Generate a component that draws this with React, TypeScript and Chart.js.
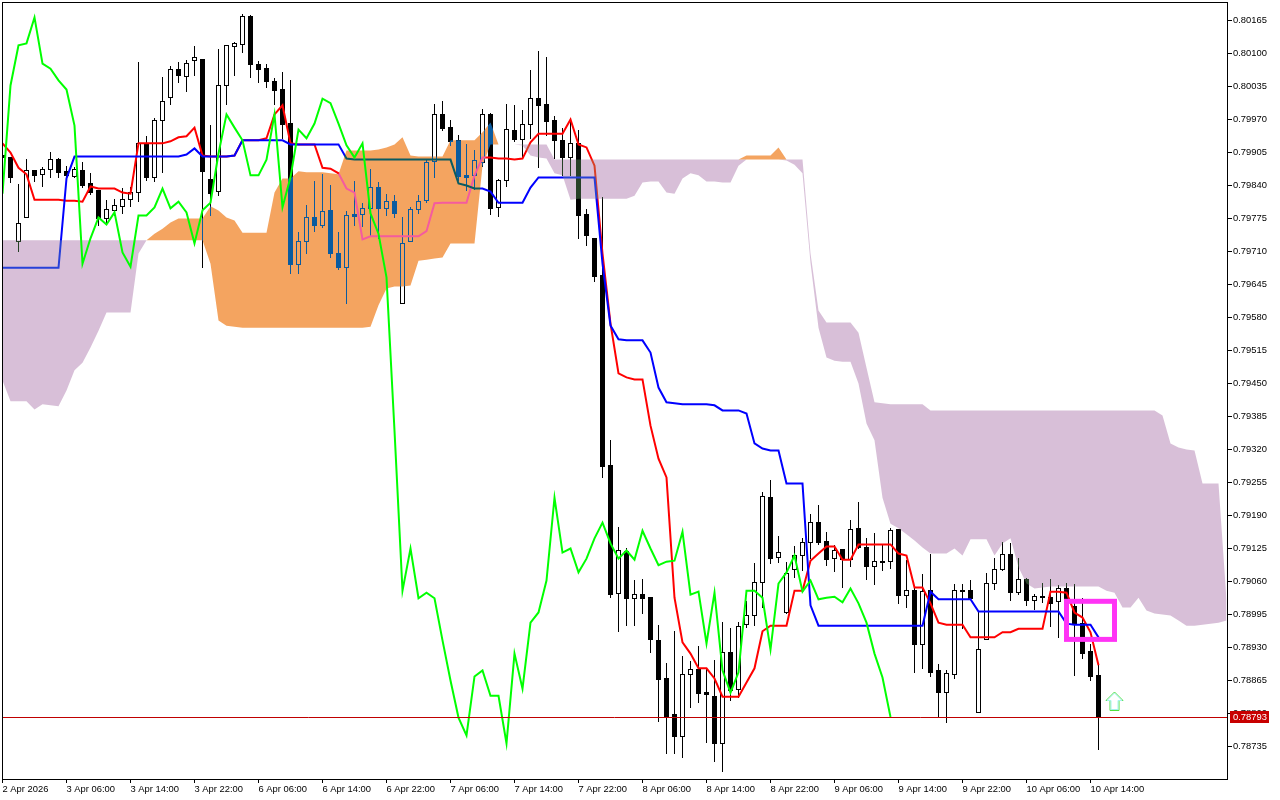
import React, { useEffect, useRef } from "react";
import { Chart, registerables } from "chart.js";

const opens = [0.79899,0.79895,0.7973,0.79777,0.7987,0.79862,0.79872,0.79891,0.79868,0.79858,
0.7987,0.79844,0.7983,0.79775,0.79791,0.79799,0.79812,0.79826,0.79921,0.79856,
0.79968,0.80013,0.80068,0.80055,0.80086,0.80088,0.79852,0.79828,0.80037,0.80114,
0.80118,0.80173,0.80078,0.8007,0.80045,0.80029,0.79962,0.79684,0.7973,0.79777,
0.79761,0.79791,0.79706,0.79678,0.79783,0.79783,0.79795,0.79836,0.79795,0.79808,
0.79608,0.7973,0.79793,0.7981,0.79887,0.7998,0.79954,0.79929,0.7986,0.7986,
0.79885,0.7998,0.79797,0.7985,0.79948,0.79931,0.7996,0.80011,0.8,0.79968,
0.79929,0.79895,0.79923,0.79783,0.79736,0.79663,0.79289,0.79037,0.79119,0.79027,
0.79035,0.79028,0.78944,0.78869,0.78798,0.78755,0.78877,0.78887,0.78841,0.78833,
0.78741,0.7892,0.78847,0.78975,0.78993,0.79058,0.79225,0.79107,0.78999,0.79083,
0.79111,0.79137,0.79176,0.79139,0.79105,0.79123,0.79103,0.79165,0.79127,0.7909,
0.79099,0.79099,0.79163,0.79032,0.79042,0.78936,0.79042,0.78885,0.78841,0.78877,
0.79042,0.79042,0.78802,0.78946,0.79056,0.79084,0.79113,0.79038,0.79064,0.79023,
0.7903,0.79028,0.79021,0.79046,0.79011,0.78977,0.78922,0.78875];
const highs = [0.79909,0.79895,0.79842,0.79891,0.7987,0.79875,0.79905,0.79893,0.79877,0.79875,
0.79885,0.79864,0.7983,0.7981,0.79812,0.79834,0.79836,0.80082,0.79937,0.79972,
0.80053,0.80074,0.80082,0.80086,0.80114,0.80088,0.79958,0.80108,0.80116,0.80122,
0.80177,0.80175,0.80084,0.80078,0.80051,0.80063,0.80047,0.79747,0.79801,0.79848,
0.79862,0.7984,0.79747,0.79789,0.79848,0.79805,0.79872,0.79846,0.79822,0.7982,
0.79777,0.79797,0.7982,0.79889,0.8,0.80005,0.79968,0.79938,0.79921,0.79909,
0.7999,0.79982,0.79852,0.8,0.79998,0.79988,0.80067,0.80104,0.80092,0.79976,
0.79952,0.79972,0.79948,0.79793,0.79736,0.79816,0.79338,0.79166,0.79125,0.79062,
0.79064,0.79028,0.78973,0.78898,0.78962,0.78912,0.78902,0.78932,0.78887,0.78904,
0.78979,0.78967,0.78979,0.79021,0.79095,0.79235,0.79259,0.79149,0.79097,0.79129,
0.79145,0.79192,0.7921,0.79157,0.79131,0.79123,0.7918,0.79216,0.79145,0.79155,
0.79131,0.79165,0.79163,0.79101,0.79052,0.79074,0.79113,0.78897,0.78885,0.79054,
0.79054,0.79062,0.78999,0.79076,0.79105,0.79137,0.79135,0.79105,0.79066,0.79034,
0.79056,0.79064,0.79052,0.79056,0.79054,0.79027,0.78936,0.78895];
const lows = [0.79889,0.79846,0.7971,0.79777,0.79848,0.79838,0.79856,0.79856,0.79844,0.79856,
0.79836,0.79822,0.79761,0.79767,0.79781,0.79785,0.79799,0.79808,0.7985,0.79848,
0.79866,0.8,0.80043,0.80025,0.80057,0.79678,0.79781,0.7982,0.8,0.80057,
0.80102,0.80053,0.80043,0.80033,0.8,0.79933,0.79667,0.79667,0.79706,0.79749,
0.79757,0.79698,0.79675,0.79608,0.79761,0.79759,0.79742,0.79736,0.79781,0.79777,
0.79608,0.7973,0.79785,0.79806,0.79856,0.79948,0.79919,0.7985,0.7983,0.79832,
0.79877,0.79783,0.79779,0.79838,0.79927,0.79893,0.79933,0.79875,0.79938,0.79893,
0.7986,0.7986,0.79736,0.79722,0.79651,0.79265,0.79028,0.78961,0.78973,0.78973,
0.78997,0.7892,0.78784,0.78721,0.78721,0.78713,0.78812,0.78822,0.78743,0.78705,
0.78685,0.78826,0.78832,0.78969,0.78973,0.79009,0.79095,0.79097,0.78997,0.79068,
0.79082,0.79105,0.79133,0.79092,0.7908,0.79048,0.7909,0.79125,0.79064,0.79054,
0.79082,0.79086,0.79017,0.79009,0.78881,0.78889,0.78873,0.78792,0.78782,0.78869,
0.78967,0.79027,0.78802,0.78946,0.79044,0.79082,0.79023,0.79034,0.79013,0.79005,
0.79019,0.78971,0.7895,0.78999,0.78875,0.78908,0.78865,0.78729];
const closes = [0.79895,0.79856,0.79765,0.7987,0.7986,0.79872,0.79891,0.79866,0.7986,0.79872,
0.7984,0.79826,0.79775,0.79793,0.79801,0.79812,0.79826,0.79923,0.79856,0.79968,
0.80005,0.80068,0.80057,0.8008,0.80092,0.79868,0.79824,0.80037,0.80116,0.8012,
0.80173,0.80078,0.80068,0.80045,0.80027,0.7996,0.79684,0.7973,0.79777,0.79761,
0.79789,0.79706,0.79678,0.79781,0.79779,0.79795,0.79836,0.79795,0.79808,0.79785,
0.79726,0.79793,0.79808,0.79885,0.7998,0.79952,0.79927,0.79858,0.79856,0.79889,
0.7998,0.79795,0.7985,0.7995,0.79931,0.7996,0.80011,0.79998,0.79966,0.79929,
0.79895,0.79923,0.79781,0.79742,0.79661,0.79287,0.79035,0.79121,0.79027,0.79035,
0.79027,0.78945,0.78867,0.78794,0.78755,0.78877,0.78887,0.78839,0.78837,0.78741,
0.7892,0.78845,0.78971,0.78993,0.79058,0.79227,0.79105,0.79117,0.79076,0.79111,
0.79137,0.79176,0.79137,0.79103,0.79121,0.79103,0.79163,0.79127,0.7909,0.79099,
0.79097,0.79161,0.79033,0.79042,0.78936,0.7904,0.78881,0.78841,0.78879,0.79042,
0.7904,0.79027,0.78926,0.79056,0.79084,0.79113,0.79038,0.79064,0.79023,0.7903,
0.79028,0.79017,0.79046,0.79019,0.78977,0.78918,0.78873,0.78793];

const tenkan = [0.79923,0.79905,0.79875,0.79862,0.79812,0.79812,0.79812,0.79812,0.7981,0.7981,
0.79808,0.79838,0.79834,0.79834,0.79834,0.79826,0.79824,0.79923,0.79923,0.79923,
0.79923,0.79927,0.79935,0.79937,0.79954,0.79899,0.79897,0.79897,0.79897,0.79899,
0.79929,0.79929,0.79929,0.79933,0.7998,0.79998,0.79923,0.79921,0.79921,0.79921,
0.79875,0.79873,0.79864,0.79834,0.79826,0.79734,0.7974,0.7974,0.7974,0.7974,
0.7974,0.7974,0.7974,0.7975,0.79805,0.79806,0.79806,0.79806,0.79806,0.7986,
0.79895,0.79895,0.79893,0.79893,0.79891,0.79893,0.79925,0.79942,0.79942,0.79942,
0.79942,0.7997,0.79921,0.79915,0.79879,0.79706,0.79568,0.7947,0.79462,0.79458,
0.79458,0.79367,0.79302,0.79265,0.79028,0.7894,0.78918,0.78889,0.78889,0.78869,
0.78833,0.78833,0.78833,0.78861,0.78889,0.78962,0.78973,0.78973,0.78973,0.79042,
0.79042,0.79101,0.79115,0.79129,0.79129,0.79103,0.79103,0.79133,0.79133,0.79133,
0.79133,0.79133,0.79115,0.79111,0.79048,0.79048,0.79017,0.78979,0.78975,0.78975,
0.78975,0.7895,0.7895,0.7895,0.7895,0.7896,0.7896,0.78967,0.78967,0.78967,
0.78967,0.7904,0.7904,0.79038,0.78999,0.78989,0.7896,0.78895];

const kijun = [0.79678,0.79678,0.79678,0.79678,0.79678,0.79678,0.79678,0.79678,0.79854,0.79897,
0.79897,0.79897,0.79897,0.79897,0.79897,0.79897,0.79897,0.79897,0.79897,0.79897,
0.79897,0.79897,0.79897,0.79901,0.79913,0.79897,0.79897,0.79897,0.79897,0.79899,
0.79929,0.79929,0.79929,0.79929,0.79929,0.79929,0.79921,0.79921,0.79921,0.79921,
0.79921,0.79921,0.79921,0.79893,0.79891,0.79891,0.79891,0.79891,0.79891,0.79891,
0.79891,0.79891,0.79891,0.79891,0.79891,0.79891,0.79891,0.79844,0.7984,0.79834,
0.79834,0.79828,0.79806,0.79806,0.79806,0.79806,0.79836,0.79856,0.79856,0.79856,
0.79856,0.79856,0.79856,0.79856,0.79856,0.79686,0.79564,0.79537,0.79535,0.79535,
0.79535,0.79511,0.79442,0.79413,0.79411,0.79409,0.79409,0.79409,0.79409,0.79407,
0.79397,0.79397,0.79397,0.79391,0.79332,0.79322,0.79318,0.79318,0.79253,0.79253,
0.79253,0.79013,0.78973,0.78973,0.78973,0.78973,0.78973,0.78973,0.78973,0.78973,
0.78973,0.78973,0.78973,0.78973,0.78973,0.78973,0.7904,0.79025,0.79025,0.79025,
0.79025,0.79025,0.79001,0.79001,0.79001,0.79001,0.79001,0.79001,0.79001,0.79001,
0.79001,0.79001,0.79001,0.78977,0.78975,0.78975,0.78975,0.7895];

const chikou = [0.79824,0.80037,0.80116,0.8012,0.80171,0.8008,0.8007,0.80047,0.80029,0.79958,
0.79686,0.79736,0.79777,0.79763,0.79787,0.79708,0.7968,0.79781,0.79781,0.79797,
0.79834,0.79795,0.79808,0.79787,0.79726,0.79791,0.79806,0.79903,0.7998,0.79954,
0.79929,0.7986,0.7986,0.79891,0.7998,0.79797,0.79856,0.7995,0.79933,0.79962,
0.80011,0.80002,0.79962,0.79919,0.79895,0.79923,0.79785,0.79745,0.79659,0.79357,
0.79042,0.79125,0.79027,0.79038,0.79027,0.78944,0.78865,0.78792,0.78757,0.78873,
0.78885,0.78835,0.78835,0.78741,0.78918,0.78849,0.78979,0.78999,0.79062,0.79225,
0.79117,0.79125,0.79078,0.79105,0.79145,0.79176,0.79135,0.79105,0.79121,0.79103,
0.7916,0.79125,0.79092,0.79099,0.79101,0.79158,0.79034,0.7904,0.78938,0.79038,
0.78885,0.78841,0.78881,0.79042,0.79042,0.79028,0.78926,0.79056,0.79078,0.79111,
0.7904,0.79062,0.79025,0.79028,0.7903,0.79019,0.79046,0.79017,0.78979,0.78918,
0.78871,0.78793];

const senkouA = [0.79456,0.79415,0.79415,0.79415,0.79399,0.79409,0.79407,0.79405,0.79436,0.79476,
0.79491,0.79521,0.79554,0.7959,0.7959,0.7959,0.7959,0.79706,0.79732,0.79745,
0.79755,0.79767,0.79775,0.79775,0.79775,0.79775,0.79799,0.79791,0.79777,0.79771,
0.79747,0.79747,0.79747,0.79747,0.79826,0.79854,0.79854,0.79868,0.79866,0.79866,
0.79866,0.79864,0.79862,0.79909,0.79909,0.79909,0.79909,0.79911,0.79915,0.79921,
0.79935,0.79899,0.79897,0.79897,0.79897,0.79897,0.79929,0.79929,0.79929,0.79929,
0.79945,0.79964,0.79921,0.79921,0.79921,0.79919,0.79899,0.79895,0.79893,0.79864,
0.7986,0.79812,0.79814,0.79814,0.79814,0.79814,0.79814,0.79814,0.79814,0.7982,
0.79846,0.79848,0.79848,0.79826,0.79824,0.79854,0.79864,0.7986,0.79848,0.79848,
0.79846,0.79846,0.79879,0.79899,0.79899,0.79899,0.79899,0.79915,0.79889,0.79881,
0.79864,0.79688,0.7956,0.79501,0.79495,0.79493,0.79493,0.7945,0.79371,0.79338,
0.79225,0.79174,0.79165,0.79153,0.79141,0.79127,0.79115,0.79115,0.79115,0.79125,
0.79111,0.79143,0.79143,0.79143,0.79111,0.79135,0.79145,0.79088,0.79056,0.79046,
0.79048,0.7905,0.7905,0.7905,0.7905,0.7905,0.7905,0.7905,0.79042,0.79038,
0.79009,0.79009,0.79028,0.79003,0.78997,0.78995,0.78993,0.78983,0.78973,0.78973,
0.78975,0.78977,0.78979,0.78983];

const senkouB = [0.79732,0.79732,0.79732,0.79732,0.79732,0.79732,0.79732,0.79732,0.79732,0.79732,
0.79732,0.79732,0.79732,0.79732,0.79732,0.79732,0.79732,0.79732,0.79732,0.79732,
0.79732,0.79732,0.79732,0.79732,0.79732,0.79732,0.79686,0.79574,0.79564,0.79562,
0.7956,0.7956,0.7956,0.7956,0.7956,0.7956,0.7956,0.7956,0.7956,0.7956,
0.7956,0.7956,0.7956,0.7956,0.7956,0.7956,0.79562,0.79604,0.79637,0.79641,
0.79641,0.79643,0.79692,0.79694,0.79696,0.79698,0.79726,0.79726,0.79726,0.79726,
0.79879,0.79921,0.79921,0.79921,0.79921,0.79921,0.79921,0.79921,0.79921,0.79891,
0.79891,0.79891,0.79891,0.79891,0.79891,0.79891,0.79891,0.79891,0.79891,0.79891,
0.79891,0.79891,0.79891,0.79891,0.79891,0.79891,0.79891,0.79891,0.79891,0.79891,
0.79891,0.79891,0.79891,0.79891,0.79891,0.79891,0.79891,0.79891,0.79891,0.79891,
0.79891,0.79706,0.79594,0.7957,0.7957,0.7957,0.7957,0.7955,0.79481,0.79413,
0.79411,0.79409,0.79409,0.79409,0.79409,0.79409,0.79397,0.79397,0.79397,0.79397,
0.79397,0.79397,0.79397,0.79397,0.79397,0.79397,0.79397,0.79397,0.79397,0.79397,
0.79397,0.79397,0.79397,0.79397,0.79397,0.79397,0.79397,0.79397,0.79397,0.79397,
0.79397,0.79397,0.79397,0.79397,0.79397,0.79387,0.79332,0.79324,0.7932,0.79318,
0.79253,0.79253,0.79253,0.79023];

const timeLabels = ["2 Apr 2026","3 Apr 06:00","3 Apr 14:00","3 Apr 22:00","6 Apr 06:00","6 Apr 14:00","6 Apr 22:00","7 Apr 06:00","7 Apr 14:00","7 Apr 22:00","8 Apr 06:00","8 Apr 14:00","8 Apr 22:00","9 Apr 06:00","9 Apr 14:00","9 Apr 22:00","10 Apr 06:00","10 Apr 14:00"];
const timeTickIndexes = [0,8,16,24,32,40,48,56,64,72,80,88,96,104,112,120,128,136];
const priceTicks = [0.80165,0.801,0.80035,0.7997,0.79905,0.7984,0.79775,0.7971,0.79645,0.7958,0.79515,0.7945,0.79385,0.7932,0.79255,0.7919,0.79125,0.7906,0.78995,0.7893,0.78865,0.788,0.78735];

const lastPrice = 0.78793;
const boxRange = { from: 133, to: 139, high: 0.79021, low: 0.78946 };
const arrowMark = { index: 139, tip: 0.78842 };

const FONT = "'Liberation Sans', sans-serif";
const FONT_SIZE = 9.4;

const blendPlugin = {
  id: "cloudBlend",
  beforeDatasetDraw(chart: any, args: any) {
    if (chart.data.datasets[args.index].cloudBlend) chart.ctx.globalCompositeOperation = "exclusion";
  },
  afterDatasetDraw(chart: any, args: any) {
    if (chart.data.datasets[args.index].cloudBlend) chart.ctx.globalCompositeOperation = "source-over";
  },
};
Chart.register(blendPlugin);
Chart.register(...registerables);

const pagePlugin = {
  id: "page",
  beforeDraw(chart: any) {
    const c = chart.ctx;
    c.save();
    c.fillStyle = "#fff";
    c.fillRect(0, 0, chart.width, chart.height);
    c.restore();
  },
  beforeDatasetsDraw(chart: any) {
    chart.data.datasets.forEach((ds: any, i: number) => {
      const meta = chart.getDatasetMeta(i);
      if (ds.snapBars) {
        meta.data.forEach((el: any) => {
          const top = Math.floor(Math.min(el.y, el.base));
          let bot = Math.ceil(Math.max(el.y, el.base));
          if (bot === top) bot = top + 1;
          el.y = top;
          el.base = bot;
        });
      }
      if (ds.snapLine) {
        meta.data.forEach((el: any) => { el.y = Math.floor(el.y) + 0.5; });
      }
    });
  },
  afterDraw(chart: any) {
    const c = chart.ctx;
    const { x, y } = chart.scales;
    c.save();
    // marker rectangle
    c.strokeStyle = "#FF33F5";
    c.lineWidth = 5;
    c.lineJoin = "miter";
    const bx0 = x.getPixelForValue(boxRange.from);
    const bx1 = x.getPixelForValue(boxRange.to);
    const by0 = y.getPixelForValue(boxRange.high);
    const by1 = y.getPixelForValue(boxRange.low);
    c.strokeRect(bx0, by0, bx1 - bx0, by1 - by0);
    // up arrow
    const ax = x.getPixelForValue(arrowMark.index);
    const ay = Math.round(y.getPixelForValue(arrowMark.tip));
    const path = (inset: number) => {
      c.beginPath();
      c.moveTo(ax, ay + inset);
      c.lineTo(ax + 8.5 - inset, ay + 8.5);
      c.lineTo(ax + 4.5 - inset, ay + 8.5);
      c.lineTo(ax + 4.5 - inset, ay + 18.5 - inset);
      c.lineTo(ax - 4.5 + inset, ay + 18.5 - inset);
      c.lineTo(ax - 4.5 + inset, ay + 8.5);
      c.lineTo(ax - 8.5 + inset, ay + 8.5);
      c.closePath();
    };
    c.lineWidth = 1;
    c.strokeStyle = "#4FE03C";
    path(0);
    c.stroke();
    c.strokeStyle = "#A6F2EE";
    path(1);
    c.stroke();
    // frame
    c.strokeStyle = "#000";
    c.lineWidth = 1;
    const a = chart.chartArea;
    c.strokeRect(a.left + 0.5, a.top + 0.5, a.right - a.left, a.bottom - a.top);
    // current price tag
    const py = Math.floor(y.getPixelForValue(lastPrice));
    c.fillStyle = "#C80000";
    c.fillRect(a.right + 3, py - 6, 39, 12);
    c.fillStyle = "#fff";
    c.font = `${FONT_SIZE}px ${FONT}`;
    c.textBaseline = "middle";
    c.textAlign = "left";
    c.fillText(lastPrice.toFixed(5), a.right + 6, py + 0.5);
    c.restore();
  },
};

const linePoints = (values: number[]) => values.map((v, i) => ({ x: i, y: v }));

export default function App() {
  const ref = useRef<HTMLCanvasElement | null>(null);
  useEffect(() => {
    const bull = closes.map((c, i) => c >= opens[i]);
    const cloudUpper = senkouA.map((v, i) => Math.max(v, senkouB[i]));
    const cloudLower = senkouA.map((v, i) => Math.min(v, senkouB[i]));
    const lineBase = { type: "line", pointRadius: 0, pointHoverRadius: 0, tension: 0, borderJoinStyle: "miter" };
    const chart = new Chart(ref.current as HTMLCanvasElement, {
      type: "bar",
      data: {
        datasets: [
          {
            label: "Wicks",
            data: highs.map((h, i) => ({ x: i, y: [lows[i], h] })),
            backgroundColor: "#000",
            borderWidth: 0,
            barThickness: 1,
            grouped: false,
            inflateAmount: 0,
            snapBars: true,
            order: 20,
          },
          {
            label: "Bodies",
            data: opens.map((o, i) => ({ x: i, y: [o, closes[i]] })),
            backgroundColor: bull.map((b) => (b ? "#fff" : "#000")),
            borderColor: "#000",
            borderWidth: 1,
            borderSkipped: false,
            barThickness: 5,
            grouped: false,
            inflateAmount: 0,
            snapBars: true,
            order: 19,
          },
          { ...lineBase, label: "Tenkan-sen", data: linePoints(tenkan), borderColor: "#FF0000", borderWidth: 2, order: 18 },
          { ...lineBase, label: "Kijun-sen", data: linePoints(kijun), borderColor: "#0000FF", borderWidth: 2, order: 17 },
          { ...lineBase, label: "Senkou Span B", data: linePoints(senkouB), borderColor: "rgba(0,0,0,0)", borderWidth: 0, order: 16 },
          {
            ...lineBase,
            label: "Senkou Span A above B",
            data: linePoints(cloudUpper),
            borderColor: "rgba(0,0,0,0)",
            borderWidth: 0,
            fill: { target: 4, above: "#0B5B9F", below: "#0B5B9F" },
            cloudBlend: true,
            order: 15,
          },
          {
            ...lineBase,
            label: "Senkou Span A below B",
            data: linePoints(cloudLower),
            borderColor: "rgba(0,0,0,0)",
            borderWidth: 0,
            fill: { target: 4, above: "#274027", below: "#274027" },
            cloudBlend: true,
            order: 14,
          },
          { ...lineBase, label: "Chikou Span", data: linePoints(chikou), borderColor: "#00FF00", borderWidth: 2, order: 13 },
          {
            ...lineBase,
            label: "Last price",
            data: [{ x: -0.0625, y: lastPrice }, { x: 153.0625, y: lastPrice }],
            borderColor: "#C00000",
            borderWidth: 1,
            snapLine: true,
            order: 12,
          },
        ],
      } as any,
      options: {
        responsive: false,
        animation: false,
        devicePixelRatio: 1,
        layout: { padding: { left: 2, top: 2, right: 0, bottom: 0 } },
        plugins: { legend: { display: false }, tooltip: { enabled: false }, title: { display: false }, filler: { drawTime: "beforeDatasetDraw" } },
        events: [],
        scales: {
          x: {
            type: "linear",
            position: "bottom",
            min: -0.0625,
            max: 153.0625,
            offset: false,
            border: { display: false },
            grid: { drawOnChartArea: false, offset: false, color: "#000", tickLength: 4, tickWidth: 1 },
            ticks: {
              autoSkip: false,
              maxRotation: 0,
              minRotation: 0,
              align: "start",
              padding: 1,
              color: "#000",
              font: { family: FONT, size: FONT_SIZE },
              callback: (v: any) => timeLabels[timeTickIndexes.indexOf(v)] ?? "",
            },
            afterBuildTicks: (s: any) => { s.ticks = timeTickIndexes.map((value) => ({ value })); },
            afterFit: (s: any) => { s.height = 21; s.paddingLeft = 0; s.paddingRight = 0; },
          },
          y: {
            type: "linear",
            position: "right",
            min: 0.78671,
            max: 0.8020144,
            border: { display: false },
            grid: { drawOnChartArea: false, color: "#000", tickLength: 5, tickWidth: 1 },
            ticks: {
              autoSkip: false,
              crossAlign: "near",
              padding: 1,
              color: "#000",
              font: { family: FONT, size: FONT_SIZE },
              callback: (v: any) => Number(v).toFixed(5),
            },
            afterBuildTicks: (s: any) => { s.ticks = priceTicks.map((value) => ({ value })); },
            afterFit: (s: any) => { s.width = 53; s.paddingTop = 0; s.paddingBottom = 0; },
          },
        },
      } as any,
      plugins: [pagePlugin],
    } as any);
    return () => chart.destroy();
  }, []);
  return (
    <canvas
      ref={ref}
      width={1280}
      height={800}
      style={{ position: "fixed", left: 0, top: 0, display: "block", width: 1280, height: 800 }}
    />
  );
}
